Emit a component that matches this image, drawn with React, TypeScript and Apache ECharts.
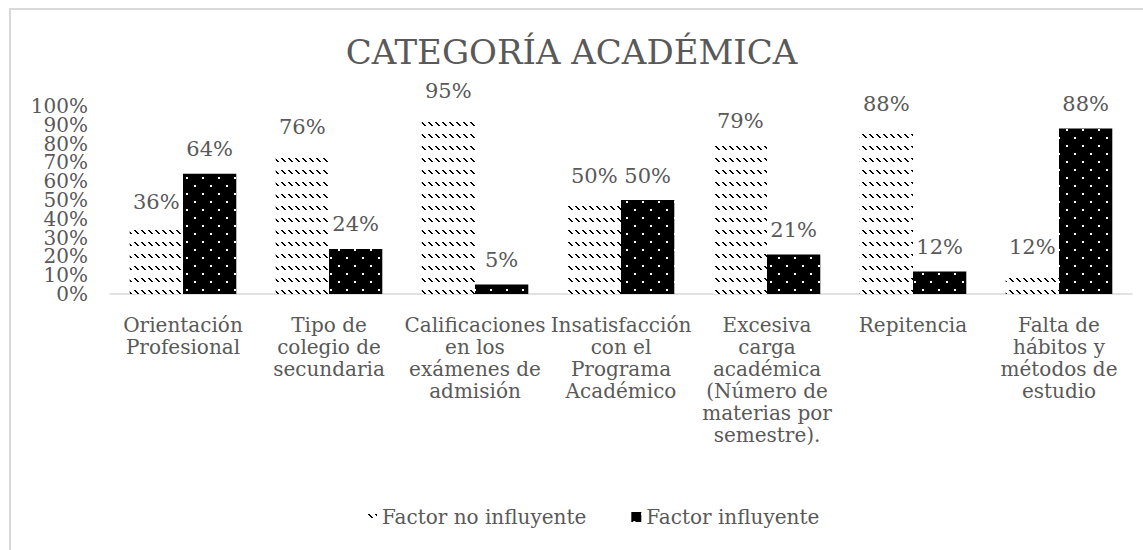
import React, { useEffect, useRef } from "react";
import * as echarts from "echarts";

const categories = [
  "Orientación\nProfesional",
  "Tipo de\ncolegio de\nsecundaria",
  "Calificaciones\nen los\nexámenes de\nadmisión",
  "Insatisfacción\ncon el\nPrograma\nAcadémico",
  "Excesiva\ncarga\nacadémica\n(Número de\nmaterias por\nsemestre).",
  "Repitencia",
  "Falta de\nhábitos y\nmétodos de\nestudio",
];
const noInfluyente = [36, 76, 95, 50, 79, 88, 12];
const influyente = [64, 24, 5, 50, 21, 12, 88];
const seriesNames = ["Factor no influyente", "Factor influyente"];
const titleText = "CATEGORÍA ACADÉMICA";

function hatchCanvas() {
  const c = document.createElement("canvas");
  c.width = 7;
  c.height = 12;
  const ctx = c.getContext("2d")!;
  ctx.fillStyle = "#ffffff";
  ctx.fillRect(0, 0, 7, 12);
  ctx.fillStyle = "#000000";
  for (let i = 0; i < 4; i++) {
    ctx.fillRect(i + 1, 2 + i, 2, 1);
  }
  return c;
}

function dotCanvas() {
  const c = document.createElement("canvas");
  c.width = 16;
  c.height = 16;
  const ctx = c.getContext("2d")!;
  ctx.fillStyle = "#000000";
  ctx.fillRect(0, 0, 16, 16);
  ctx.fillStyle = "#ffffff";
  ctx.fillRect(10, 1, 2, 2);
  ctx.fillRect(2, 9, 2, 2);
  return c;
}

export default function App() {
  const ref = useRef<HTMLDivElement>(null);
  useEffect(() => {
    document.body.style.margin = "0";
    const chart = echarts.init(ref.current!, undefined, { renderer: "svg" });
    const font = "DejaVu Serif";
    const hatch = { image: hatchCanvas(), repeat: "repeat", imageWidth: 7, imageHeight: 12 } as any;
    const dots = { image: dotCanvas(), repeat: "repeat", imageWidth: 16, imageHeight: 16 } as any;
    const labelCfg = {
      show: true,
      position: "top",
      distance: 14,
      formatter: (p: any) => `${p.value}%`,
      fontFamily: font,
      fontSize: 21,
      color: "#595959",
    };
    const yAxisBase = (even: boolean) => ({
      type: "value",
      position: "left",
      min: 0,
      max: 100,
      interval: 10,
      axisLine: { show: false },
      axisTick: { show: false },
      splitLine: { show: false },
      axisLabel: {
        formatter: (v: number) => (((Math.round(v / 10) % 2 === 0) === even) ? `${v}%` : ""),
        fontFamily: font,
        fontSize: 20,
        color: "#595959",
        margin: 22,
        showMinLabel: true,
        showMaxLabel: true,
      },
    });
    chart.setOption({
      animation: false,
      backgroundColor: "#ffffff",
      textStyle: { fontFamily: font },
      graphic: [
        {
          type: "rect",
          shape: { x: 10, y: 9, width: 1200, height: 600 },
          style: { fill: "none", stroke: "#d9d9d9", lineWidth: 2 },
          silent: true,
        },
      ],
      title: {
        text: titleText,
        left: "center",
        top: 30,
        textStyle: { fontFamily: font, fontSize: 34, fontWeight: "normal", color: "#595959" },
      },
      legend: {
        bottom: 18,
        left: 362,
        itemWidth: 10,
        itemHeight: 10,
        itemGap: 45,
        icon: "rect",
        textStyle: { fontFamily: font, fontSize: 20, color: "#595959" },
        data: seriesNames,
      },
      grid: { left: 110, right: 11, top: 106, bottom: 256, containLabel: false },
      xAxis: {
        type: "category",
        data: categories,
        axisLine: { lineStyle: { color: "#d9d9d9", width: 1.5 } },
        axisTick: { show: false },
        axisLabel: {
          fontFamily: font,
          fontSize: 20,
          lineHeight: 22,
          color: "#595959",
          margin: 20,
          interval: 0,
        },
      },
      yAxis: [yAxisBase(true), yAxisBase(false)],
      series: [
        {
          name: seriesNames[0],
          type: "bar",
          data: noInfluyente,
          barGap: "0%",
          barCategoryGap: "27%",
          itemStyle: { color: hatch },
          label: labelCfg,
        },
        {
          name: seriesNames[1],
          type: "bar",
          data: influyente,
          barGap: "0%",
          barCategoryGap: "27%",
          itemStyle: { color: dots },
          label: labelCfg,
        },
      ],
    });
    return () => chart.dispose();
  }, []);
  return <div ref={ref} style={{ width: 1143, height: 550, position: "absolute", left: 0, top: 0 }} />;
}
